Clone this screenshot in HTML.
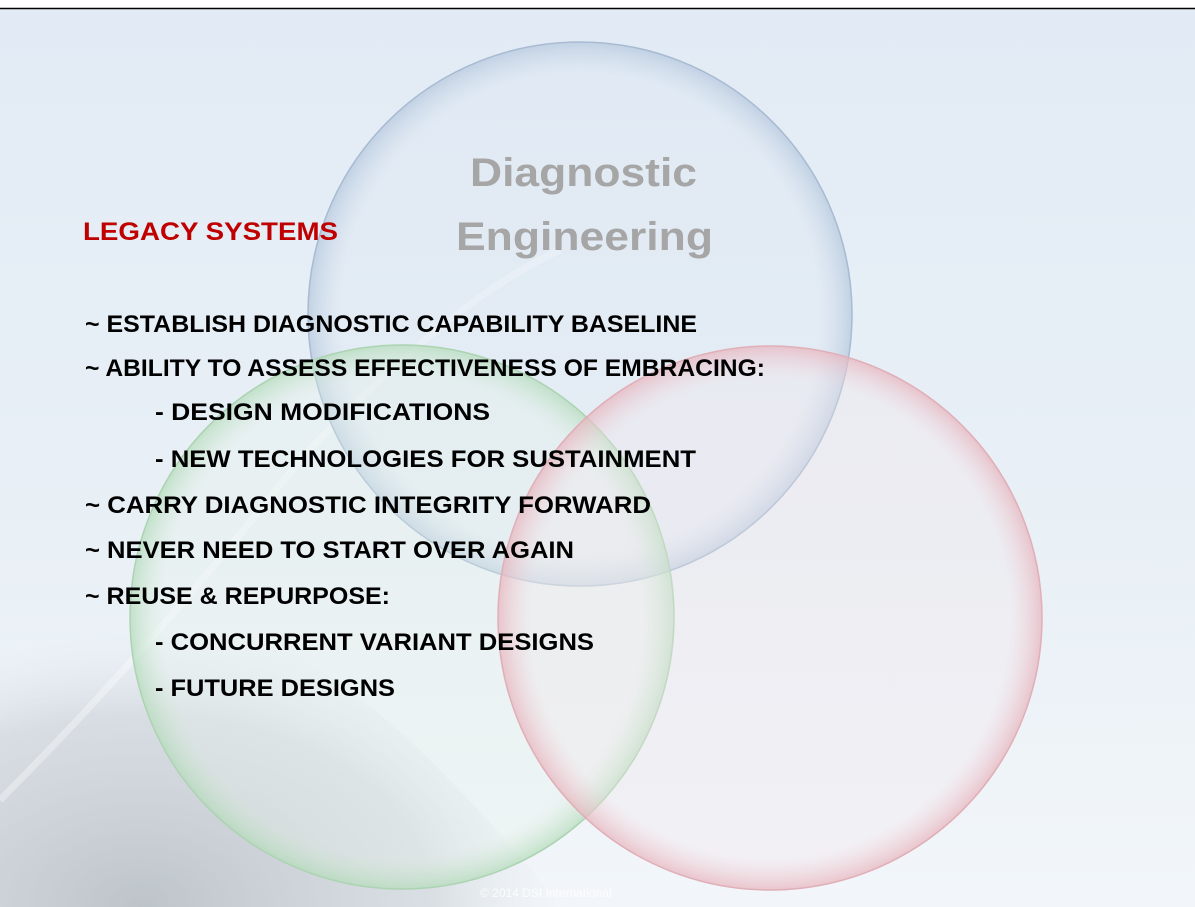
<!DOCTYPE html>
<html><head><meta charset="utf-8"><style>
html,body{margin:0;padding:0;width:1195px;height:907px;overflow:hidden;background:#fff}
</style></head><body>
<svg width="1195" height="907" viewBox="0 0 1195 907" xmlns="http://www.w3.org/2000/svg">
<defs>
<linearGradient id="bg" x1="0" y1="0" x2="0" y2="1">
<stop offset="0" stop-color="#e2ebf5"/><stop offset="0.6" stop-color="#e9f0f6"/><stop offset="1" stop-color="#f2f6fa"/>
</linearGradient>
<radialGradient id="earth" cx="0.25" cy="1.0" r="0.75">
<stop offset="0" stop-color="#b0b7bd" stop-opacity="0.8"/><stop offset="0.7" stop-color="#c6ccd2" stop-opacity="0.55"/><stop offset="1" stop-color="#dde3e9" stop-opacity="0"/>
</radialGradient>
<radialGradient id="cb" cx="0.5" cy="0.5" r="0.5">
<stop offset="0.88" stop-color="#dde7f2" stop-opacity="0.35"/><stop offset="1" stop-color="#b3c6dc" stop-opacity="0.7"/>
</radialGradient>
<radialGradient id="cg" cx="0.5" cy="0.5" r="0.5">
<stop offset="0.88" stop-color="#e6f2e8" stop-opacity="0.3"/><stop offset="1" stop-color="#b5dcbb" stop-opacity="0.75"/>
</radialGradient>
<radialGradient id="cr" cx="0.5" cy="0.5" r="0.5">
<stop offset="0.88" stop-color="#f4e6ea" stop-opacity="0.3"/><stop offset="1" stop-color="#e8b5be" stop-opacity="0.75"/>
</radialGradient>
</defs>
<rect x="0" y="0" width="1195" height="907" fill="#fff"/>
<rect x="0" y="9" width="1195" height="898" fill="url(#bg)"/>
<path d="M0 540 Q250 590 420 750 Q520 850 560 907 L0 907 Z" fill="url(#earth)"/>
<path d="M0 800 Q150 650 300 460 Q450 300 560 250" stroke="#ffffff" stroke-opacity="0.35" stroke-width="7" fill="none"/>
<line x1="0" y1="8.5" x2="1195" y2="8.5" stroke="#000" stroke-width="1.5"/>
<circle cx="580" cy="314" r="272" fill="url(#cb)" stroke="#a8bbd2" stroke-width="1.5"/>
<circle cx="402" cy="617" r="272" fill="url(#cg)" stroke="#acd3b2" stroke-width="1.5"/>
<circle cx="770" cy="618" r="272" fill="url(#cr)" stroke="#e0afb8" stroke-width="1.5"/>
<g font-family="Liberation Sans, sans-serif" font-weight="bold" fill="#a6a6a6" font-size="40">
<text x="470" y="186" textLength="227" lengthAdjust="spacingAndGlyphs">Diagnostic</text>
<text x="456" y="250" textLength="257" lengthAdjust="spacingAndGlyphs">Engineering</text>
</g>
<text x="83" y="240" font-family="Liberation Sans, sans-serif" font-weight="bold" font-size="25" fill="#c00000" textLength="255" lengthAdjust="spacingAndGlyphs">LEGACY SYSTEMS</text>
<g font-family="Liberation Sans, sans-serif" font-weight="bold" font-size="24" fill="#000">
<text x="85" y="332" textLength="612" lengthAdjust="spacingAndGlyphs">~  ESTABLISH DIAGNOSTIC CAPABILITY BASELINE</text>
<text x="85" y="376" textLength="680" lengthAdjust="spacingAndGlyphs">~  ABILITY TO ASSESS EFFECTIVENESS OF EMBRACING:</text>
<text x="155" y="420" textLength="335" lengthAdjust="spacingAndGlyphs">-  DESIGN MODIFICATIONS</text>
<text x="155" y="467" textLength="541" lengthAdjust="spacingAndGlyphs">-  NEW TECHNOLOGIES FOR SUSTAINMENT</text>
<text x="85" y="513" textLength="566" lengthAdjust="spacingAndGlyphs">~  CARRY DIAGNOSTIC INTEGRITY FORWARD</text>
<text x="85" y="558" textLength="489" lengthAdjust="spacingAndGlyphs">~  NEVER NEED TO START OVER AGAIN</text>
<text x="85" y="604" textLength="305" lengthAdjust="spacingAndGlyphs">~  REUSE &amp; REPURPOSE:</text>
<text x="155" y="650" textLength="439" lengthAdjust="spacingAndGlyphs">-  CONCURRENT VARIANT DESIGNS</text>
<text x="155" y="696" textLength="240" lengthAdjust="spacingAndGlyphs">-  FUTURE DESIGNS</text>
</g>
<text x="480" y="897" font-family="Liberation Sans, sans-serif" font-size="12" fill="#ffffff" fill-opacity="0.8">© 2014 DSI International</text>
</svg>
</body></html>
